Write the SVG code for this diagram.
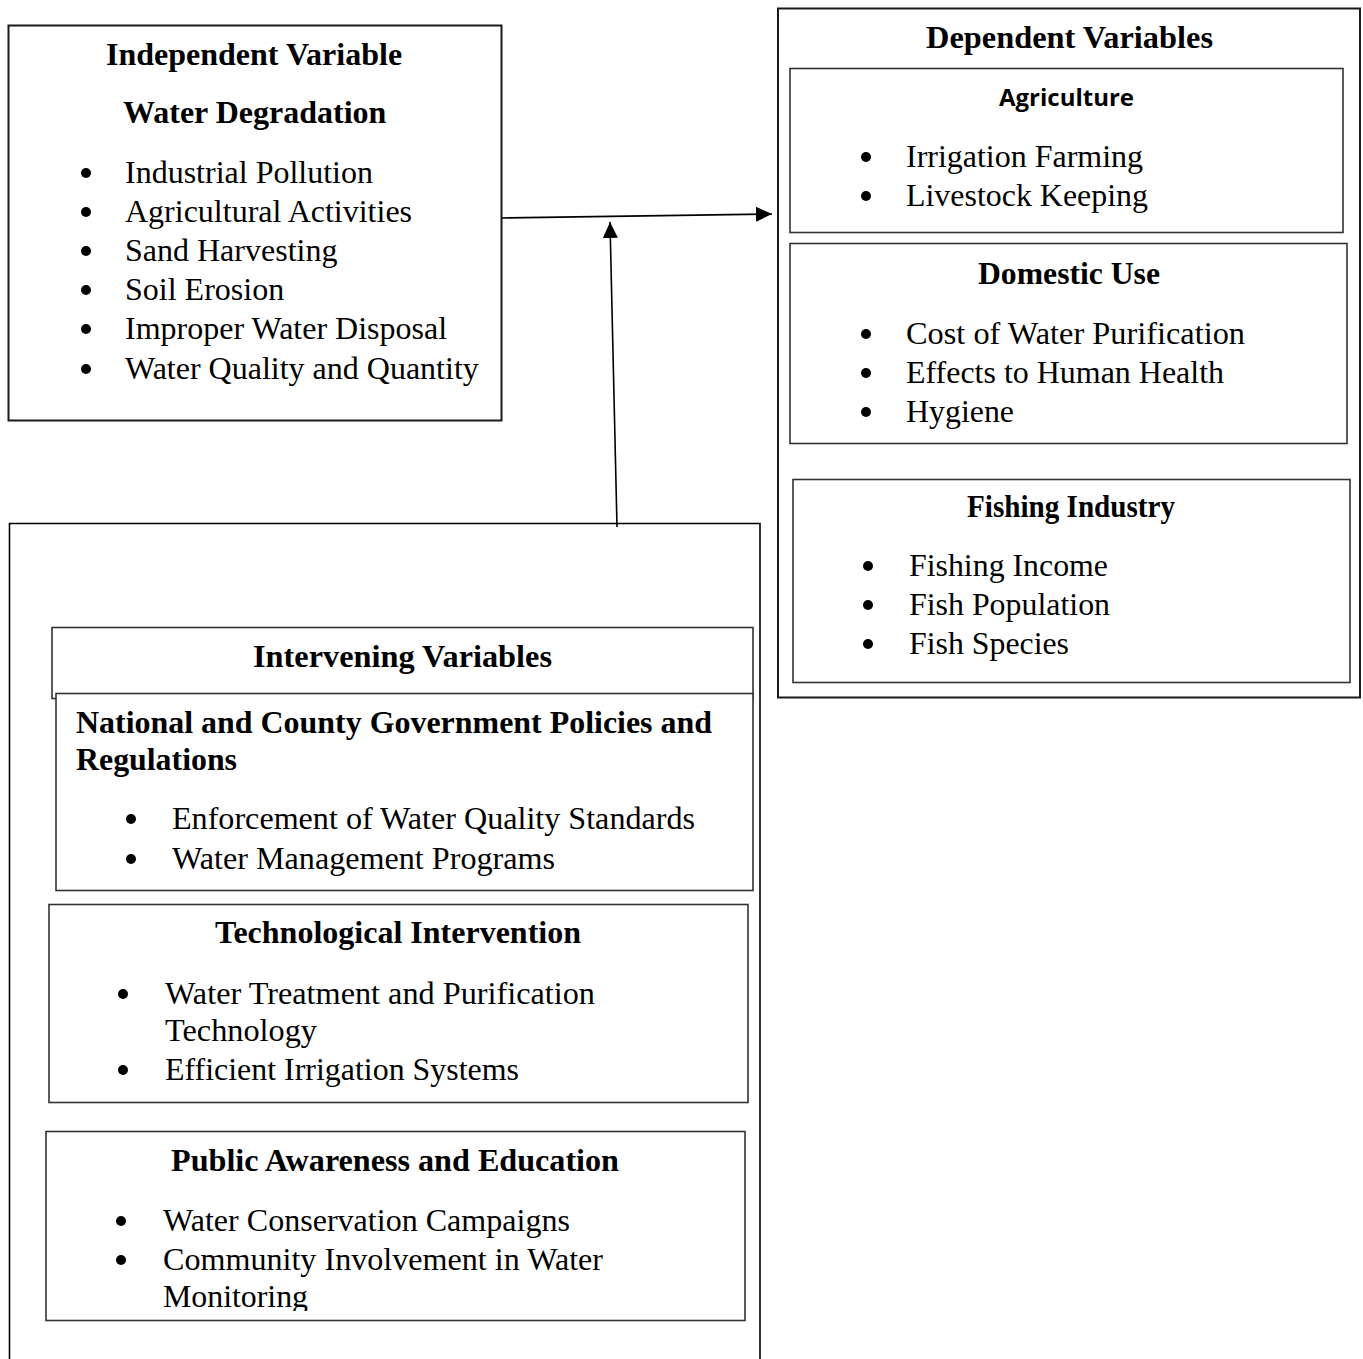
<svg xmlns="http://www.w3.org/2000/svg" width="1363" height="1359" viewBox="0 0 1363 1359">
<style>
.box{fill:#fff;stroke:#1a1a1a;stroke-width:2}
.ibox{fill:#fff;stroke:#333;stroke-width:1.6}
.t{font-family:'Liberation Serif',serif;font-size:32px;fill:#000}
.b{font-family:'Liberation Serif',serif;font-size:32px;font-weight:bold;fill:#000}
.c{font-family:'Open Sans','Liberation Sans',sans-serif;font-size:24px;font-weight:bold;fill:#000}
.dot{fill:#000}
.conn{stroke:#000;stroke-width:1.6;fill:none}
</style>
<defs>
<marker id="ah" markerUnits="userSpaceOnUse" markerWidth="17" markerHeight="16" refX="16" refY="7.5" orient="auto">
<path d="M0,0 L16,7.5 L0,15 z" fill="#000"/>
</marker>
<clipPath id="clipMon"><rect x="0" y="0" width="1363" height="1311"/></clipPath>
</defs>
<rect width="1363" height="1359" fill="#fff"/>

<g id="independent">
<rect class="box" x="8.5" y="25.5" width="493" height="395"/>
<text class="b" x="106" y="65">Independent Variable</text>
<text class="b" x="123" y="123">Water Degradation</text>
<circle class="dot" cx="86" cy="173" r="5"/>
<text class="t" x="125" y="183">Industrial Pollution</text>
<circle class="dot" cx="86" cy="212" r="5"/>
<text class="t" x="125" y="222">Agricultural Activities</text>
<circle class="dot" cx="86" cy="251" r="5"/>
<text class="t" x="125" y="261">Sand Harvesting</text>
<circle class="dot" cx="86" cy="290" r="5"/>
<text class="t" x="125" y="300">Soil Erosion</text>
<circle class="dot" cx="86" cy="329" r="5"/>
<text class="t" x="125" y="339">Improper Water Disposal</text>
<circle class="dot" cx="86" cy="369" r="5"/>
<text class="t" x="125" y="379">Water Quality and Quantity</text>
</g>

<g id="dependent">
<rect class="box" x="778" y="8.5" width="582" height="689"/>
<text class="b" x="926" y="48" textLength="287" lengthAdjust="spacingAndGlyphs">Dependent Variables</text>
</g>

<g id="agriculture">
<rect class="ibox" x="790" y="68.5" width="553" height="164"/>
<text class="c" x="999" y="106" textLength="135" lengthAdjust="spacingAndGlyphs">Agriculture</text>
<circle class="dot" cx="866" cy="157" r="5"/>
<text class="t" x="906" y="167" textLength="237" lengthAdjust="spacingAndGlyphs">Irrigation Farming</text>
<circle class="dot" cx="866" cy="196" r="5"/>
<text class="t" x="906" y="206" textLength="242" lengthAdjust="spacingAndGlyphs">Livestock Keeping</text>
</g>

<g id="domestic">
<rect class="ibox" x="790" y="243.5" width="557" height="200"/>
<text class="b" x="978" y="284" textLength="182" lengthAdjust="spacingAndGlyphs">Domestic Use</text>
<circle class="dot" cx="866" cy="334" r="5"/>
<text class="t" x="906" y="344" textLength="339" lengthAdjust="spacingAndGlyphs">Cost of Water Purification</text>
<circle class="dot" cx="866" cy="373" r="5"/>
<text class="t" x="906" y="383" textLength="318" lengthAdjust="spacingAndGlyphs">Effects to Human Health</text>
<circle class="dot" cx="866" cy="412" r="5"/>
<text class="t" x="906" y="422" textLength="108" lengthAdjust="spacingAndGlyphs">Hygiene</text>
</g>

<g id="fishing">
<rect class="ibox" x="793" y="479.5" width="557" height="203"/>
<text class="b" x="967" y="517" textLength="208" lengthAdjust="spacingAndGlyphs">Fishing Industry</text>
<circle class="dot" cx="868" cy="566" r="5"/>
<text class="t" x="909" y="576" textLength="199" lengthAdjust="spacingAndGlyphs">Fishing Income</text>
<circle class="dot" cx="868" cy="605" r="5"/>
<text class="t" x="909" y="615" textLength="201" lengthAdjust="spacingAndGlyphs">Fish Population</text>
<circle class="dot" cx="868" cy="644" r="5"/>
<text class="t" x="909" y="654" textLength="160" lengthAdjust="spacingAndGlyphs">Fish Species</text>
</g>

<g id="intervening">
<path class="conn" d="M9.5,1362 V523.5 H760 V1362" stroke="#333"/>
<rect class="ibox" x="52" y="627.5" width="701" height="71"/>
<text class="b" x="253" y="667" textLength="299" lengthAdjust="spacingAndGlyphs">Intervening Variables</text>
</g>

<g id="policies">
<rect class="ibox" x="56" y="693.5" width="697" height="197"/>
<text class="b" x="76" y="733" textLength="636" lengthAdjust="spacingAndGlyphs">National and County Government Policies and</text>
<text class="b" x="76" y="770" textLength="161" lengthAdjust="spacingAndGlyphs">Regulations</text>
<circle class="dot" cx="131" cy="819" r="5"/>
<text class="t" x="172" y="829" textLength="523" lengthAdjust="spacingAndGlyphs">Enforcement of Water Quality Standards</text>
<circle class="dot" cx="131" cy="859" r="5"/>
<text class="t" x="172" y="869" textLength="383" lengthAdjust="spacingAndGlyphs">Water Management Programs</text>
</g>

<g id="technological">
<rect class="ibox" x="49" y="904.5" width="699" height="198"/>
<text class="b" x="215" y="943" textLength="366" lengthAdjust="spacingAndGlyphs">Technological Intervention</text>
<circle class="dot" cx="123" cy="994" r="5"/>
<text class="t" x="165" y="1004" textLength="430" lengthAdjust="spacingAndGlyphs">Water Treatment and Purification</text>
<text class="t" x="165" y="1041" textLength="152" lengthAdjust="spacingAndGlyphs">Technology</text>
<circle class="dot" cx="123" cy="1070" r="5"/>
<text class="t" x="165" y="1080" textLength="354" lengthAdjust="spacingAndGlyphs">Efficient Irrigation Systems</text>
</g>

<g id="public">
<rect class="ibox" x="46" y="1131.5" width="699" height="189"/>
<text class="b" x="171" y="1171" textLength="448" lengthAdjust="spacingAndGlyphs">Public Awareness and Education</text>
<circle class="dot" cx="121" cy="1221" r="5"/>
<text class="t" x="163" y="1231" textLength="407" lengthAdjust="spacingAndGlyphs">Water Conservation Campaigns</text>
<circle class="dot" cx="121" cy="1260" r="5"/>
<text class="t" x="163" y="1270" textLength="440" lengthAdjust="spacingAndGlyphs">Community Involvement in Water</text>
<text class="t" x="163" y="1307" textLength="145" lengthAdjust="spacingAndGlyphs" clip-path="url(#clipMon)">Monitoring</text>
</g>

<g id="connectors">
<line class="conn" x1="502" y1="218" x2="772" y2="214" marker-end="url(#ah)"/>
<line class="conn" x1="617" y1="527" x2="610" y2="222" marker-end="url(#ah)"/>
</g>
</svg>
